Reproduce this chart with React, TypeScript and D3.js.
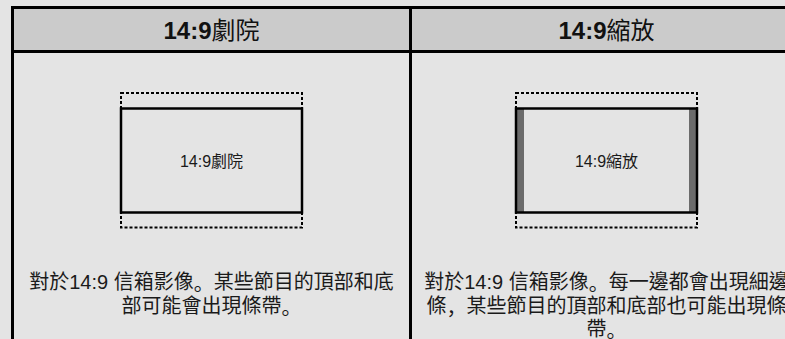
import React from "react";
import * as d3 from "d3";

const W = 785;
const H = 339;

const columns = ["theatre", "zoom"];
const titlePrefix = "14:9";
const titleSuffix = ["劇院", "縮放"];
const innerLabels = ["14:9劇院", "14:9縮放"];
const descriptions = [
  ["對於14:9 信箱影像。某些節目的頂部和底", "部可能會出現條帶。"],
  ["對於14:9 信箱影像。每一邊都會出現細邊", "條，某些節目的頂部和底部也可能出現條", "帶。"],
];
const sideBars = [false, true];

const FONT = "'Liberation Sans', Arial, 'Noto Sans CJK TC', sans-serif";
const PUNCT_FONT = "'Noto Sans CJK SC', 'Noto Sans CJK JP', sans-serif";

function runs(line: string) {
  const parts = line.split(/([。，])/).filter((p) => p.length > 0);
  return parts.map((p, k) =>
    p === "。" || p === "，" ? (
      <tspan key={k} fontFamily={PUNCT_FONT}>
        {p}
      </tspan>
    ) : (
      <tspan key={k}>{p}</tspan>
    )
  );
}

export default function App() {
  const tableLeft = 12.5;
  const tableTop = 7.5;
  const tableRight = 804.5;
  const headerBottom = 51.5;

  const x = d3.scaleBand<string>().domain(columns).range([tableLeft, tableRight]).padding(0);
  const bw = x.bandwidth();

  const boxW = 181;
  const solidTop = 108.5;
  const solidBottom = 212.5;
  const dashTop = 93;
  const dashBottom = 227.5;
  const barW = 8;

  const lineY = d3.scaleLinear().domain([0, 1]).range([282, 305.5]);

  return (
    <svg
      width={W}
      height={H}
      style={{ position: "fixed", left: 0, top: 0, display: "block" }}
      fontFamily={FONT}
    >
      <rect x={0} y={0} width={W} height={H} fill="#e4e4e4" />
      <rect x={tableLeft} y={tableTop} width={tableRight - tableLeft} height={headerBottom - tableTop} fill="#cbcbcb" />
      <rect
        x={tableLeft}
        y={tableTop}
        width={tableRight - tableLeft}
        height={H + 20}
        fill="none"
        stroke="#000"
        strokeWidth={3}
      />
      <line x1={tableLeft} x2={tableRight} y1={headerBottom} y2={headerBottom} stroke="#000" strokeWidth={3} />
      {columns.slice(1).map((c) => (
        <line key={c} x1={x(c)! + 2} x2={x(c)! + 2} y1={tableTop} y2={H + 20} stroke="#000" strokeWidth={3} />
      ))}
      {columns.map((c, i) => {
        const centerX = x(c)! + bw / 2 + (i === 0 ? 1 : 0);
        const bx = centerX - boxW / 2;
        return (
          <g key={c}>
            <text
              x={centerX}
              y={30}
              textAnchor="middle"
              dominantBaseline="central"
              fontSize={24}
              fill="#111"
            >
              <tspan fontWeight="bold">{titlePrefix}</tspan>
              <tspan>{titleSuffix[i]}</tspan>
            </text>
            <rect
              x={bx}
              y={dashTop}
              width={boxW}
              height={dashBottom - dashTop}
              fill="none"
              stroke="#000"
              strokeWidth={2}
              strokeDasharray="3 2"
            />
            <rect
              x={bx}
              y={solidTop}
              width={boxW}
              height={solidBottom - solidTop}
              fill="#e4e4e4"
              stroke="none"
            />
            {sideBars[i] && (
              <g>
                <rect x={bx} y={solidTop} width={barW} height={solidBottom - solidTop} fill="#6b6b6b" />
                <rect x={bx + boxW - barW} y={solidTop} width={barW} height={solidBottom - solidTop} fill="#6b6b6b" />
              </g>
            )}
            <rect
              x={bx}
              y={solidTop}
              width={boxW}
              height={solidBottom - solidTop}
              fill="none"
              stroke="#000"
              strokeWidth={2.5}
            />
            <text
              x={centerX}
              y={161.5}
              textAnchor="middle"
              dominantBaseline="central"
              fontSize={16}
              fill="#1a1a1a"
            >
              {innerLabels[i]}
            </text>
            {descriptions[i].map((line, j) => (
              <text
                key={j}
                x={centerX}
                y={lineY(j)}
                textAnchor="middle"
                dominantBaseline="central"
                fontSize={20}
                fill="#1a1a1a"
              >
                {runs(line)}
              </text>
            ))}
          </g>
        );
      })}
    </svg>
  );
}
